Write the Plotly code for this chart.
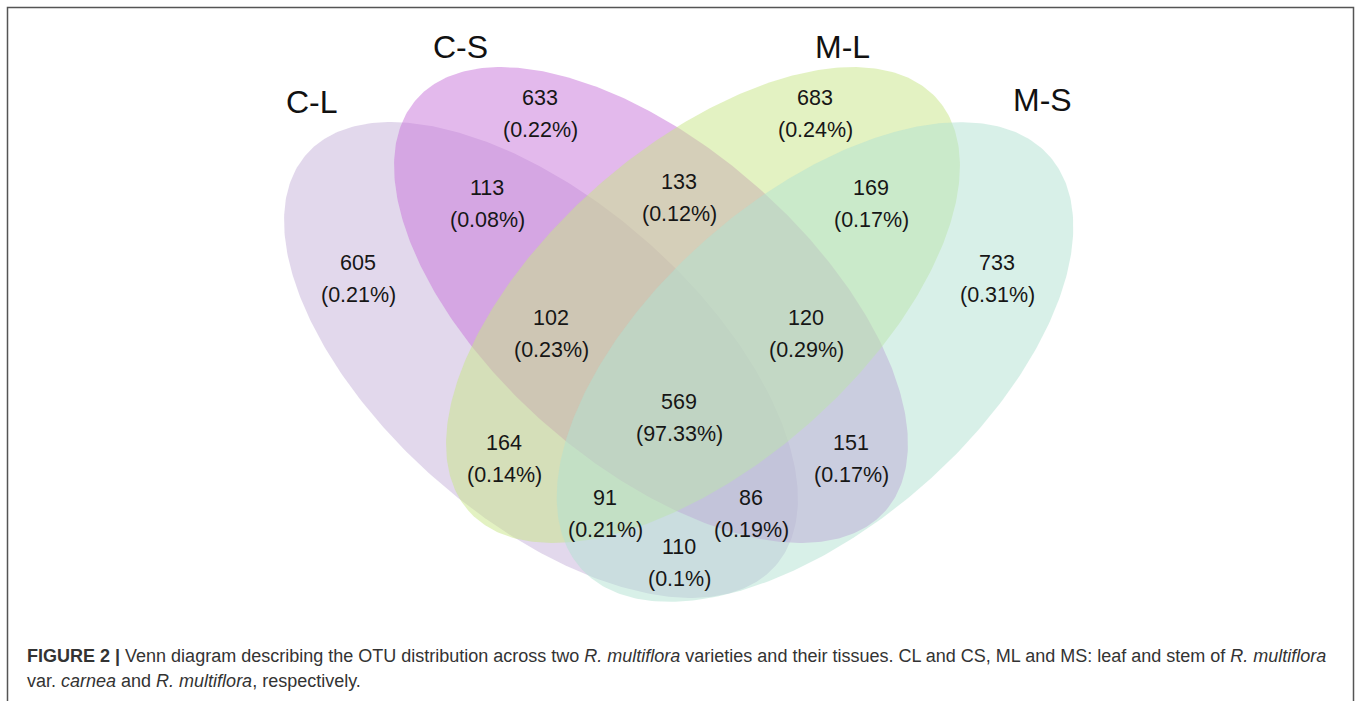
import numpy as np
import plotly.graph_objects as go

# ---------------- data ----------------
set_names = ["C-L", "C-S", "M-L", "M-S"]
region_sets = ["C-L", "C-S", "M-L", "M-S",
               "C-L&C-S", "C-S&M-L", "M-L&M-S",
               "C-L&C-S&M-L", "C-S&M-L&M-S", "All",
               "C-L&M-L", "C-S&M-S",
               "C-L&M-L&M-S", "C-L&C-S&M-S", "C-L&M-S"]
region_counts = [605, 633, 683, 733,
                 113, 133, 169,
                 102, 120, 569,
                 164, 151,
                 91, 86, 110]
region_pcts = ["0.21%", "0.22%", "0.24%", "0.31%",
               "0.08%", "0.12%", "0.17%",
               "0.23%", "0.29%", "97.33%",
               "0.14%", "0.17%",
               "0.21%", "0.19%", "0.1%"]

# ---------------- layout (geometry in pixel-like units) ----------------
W, H = 1357, 701
ell_centers = [(541, 360), (651, 305), (703, 305), (815, 362)]
ell_a = [312, 312, 312, 312]
ell_b = [159, 159, 159, 164]
ell_angles = [41.25, 41.25, 180 - 41.25, 180 - 41.25]
ell_colors = ["rgba(197,177,217,0.5)", "rgba(199,115,217,0.5)",
              "rgba(199,229,133,0.5)", "rgba(177,225,209,0.5)"]
set_label_pos = [(312, 102), (460, 47), (842, 47), (1042, 100)]
region_pos = [(358, 263), (540, 98), (815, 98), (997, 263),
              (487, 188), (679, 182), (871, 188),
              (551, 318), (806, 318), (679, 402),
              (504, 443), (851, 443),
              (605, 498), (751, 498), (679, 547)]

fig = go.Figure()
t = np.linspace(0, 2 * np.pi, 400)
for name, (cx, cy), a, b, ang, col in zip(set_names, ell_centers, ell_a, ell_b, ell_angles, ell_colors):
    th = np.deg2rad(ang)
    x = cx + a * np.cos(t) * np.cos(th) - b * np.sin(t) * np.sin(th)
    y = cy + a * np.cos(t) * np.sin(th) + b * np.sin(t) * np.cos(th)
    fig.add_trace(go.Scatter(x=x, y=y, mode="lines", fill="toself", fillcolor=col,
                             line=dict(width=0, color="rgba(0,0,0,0)"),
                             name=name, hoverinfo="skip", showlegend=False))

ann = []
font_lbl = dict(family="Liberation Sans, Arial, sans-serif", size=32, color="#111111")
for name, (x, y) in zip(set_names, set_label_pos):
    ann.append(dict(x=x, y=y, text=name, showarrow=False, font=font_lbl,
                    xanchor="center", yanchor="middle"))
font_num = dict(family="Liberation Sans, Arial, sans-serif", size=21.5, color="#161616")
for cnt, pct, (x, y) in zip(region_counts, region_pcts, region_pos):
    ann.append(dict(x=x, y=y, text=str(cnt), showarrow=False, font=font_num,
                    xanchor="center", yanchor="middle"))
    ann.append(dict(x=x, y=y + 32, text="(" + pct + ")", showarrow=False, font=font_num,
                    xanchor="center", yanchor="middle"))

font_cap = dict(family="Liberation Sans, Arial, sans-serif", size=18, color="#333333")
ann.append(dict(x=25, y=656, xanchor="left", yanchor="middle", showarrow=False, font=font_cap,
                text="<b>FIGURE 2 |</b> Venn diagram describing the OTU distribution across two <i>R. multiflora</i> "
                     "varieties and their tissues. CL and CS, ML and MS: leaf and stem of <i>R. multiflora</i>"))
ann.append(dict(x=25, y=681, xanchor="left", yanchor="middle", showarrow=False, font=font_cap,
                text="var. <i>carnea</i> and <i>R. multiflora</i>, respectively."))

fig.update_layout(
    width=W, height=H, margin=dict(l=0, r=0, t=0, b=0),
    paper_bgcolor="white", plot_bgcolor="white",
    xaxis=dict(range=[0, W], visible=False, fixedrange=True),
    yaxis=dict(range=[H, 0], visible=False, fixedrange=True),
    annotations=ann,
    shapes=[dict(type="rect", xref="x", yref="y", x0=7.5, x1=1353.5, y0=7.5, y1=740,
                 line=dict(color="#555555", width=1.5), fillcolor="rgba(0,0,0,0)", layer="above")],
)
fig.write_html("out.html", config={"displayModeBar": False},
               post_script="document.body.style.margin='0';document.body.style.overflow='hidden';")
